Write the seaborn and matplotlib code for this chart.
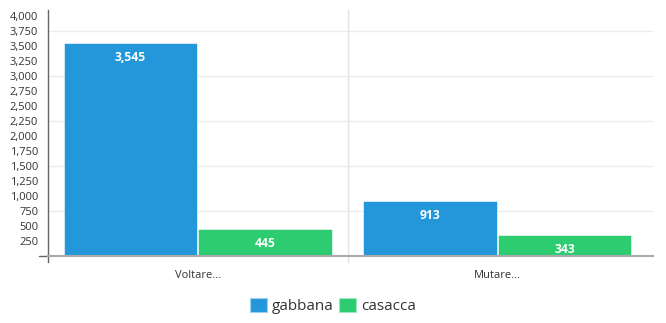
import matplotlib
matplotlib.use("Agg")
import matplotlib.pyplot as plt
import seaborn as sns
import pandas as pd
from matplotlib.patches import Patch

categories = ["Voltare...", "Mutare..."]
series_names = ["gabbana", "casacca"]
gabbana = [3545, 913]
casacca = [445, 343]
y_ticks = [250, 500, 750, 1000, 1250, 1500, 1750, 2000, 2250, 2500, 2750, 3000, 3250, 3500, 3750, 4000]
grid_lines = [750, 1500, 2250, 3000, 3750]
colors = ["#2497DB", "#2ECC71"]

df = pd.DataFrame({
    "category": categories * 2,
    "series": [series_names[0]] * 2 + [series_names[1]] * 2,
    "value": gabbana + casacca,
})

sns.set_theme(style="white")
plt.rcParams["font.family"] = ["Open Sans", "DejaVu Sans"]

fig = plt.figure(figsize=(6.66, 3.23), dpi=100)
ax = fig.add_axes([48 / 666, 67 / 323, 605 / 666, 246 / 323])

for g in grid_lines:
    ax.axhline(g, color="#ececec", lw=1, zorder=0)
ax.axvline(0.5, ymin=-0.025, ymax=1, color="#e2e2e2", lw=1, zorder=0, clip_on=False)

sns.barplot(data=df, x="category", y="value", hue="series", palette=colors,
            width=0.9, gap=0.01, ax=ax, legend=False, saturation=1,
            edgecolor="#ffffff", linewidth=0.4, zorder=2)

for container in ax.containers:
    for bar in container:
        h = bar.get_height()
        ax.annotate(f"{int(h):,}", (bar.get_x() + bar.get_width() / 2, h),
                    xytext=(0, -14), textcoords="offset pixels",
                    ha="center", va="center", color="white", fontweight="bold",
                    fontsize=8.7, zorder=3)

ax.set_xlim(-0.5, 1.52)
ax.set_ylim(0, 4100)
ax.set_yticks(y_ticks)
ax.set_yticklabels([f"{v:,}" for v in y_ticks])
ax.tick_params(axis="y", length=0, pad=7, labelsize=8, labelcolor="#333333")
ax.tick_params(axis="x", length=0, pad=10, labelsize=8, labelcolor="#333333")
ax.set_xlabel("")
ax.set_ylabel("")

for s in ["top", "right"]:
    ax.spines[s].set_visible(False)
ax.spines["left"].set_color("#666666")
ax.spines["left"].set_linewidth(1)
ax.spines["left"].set_bounds(-100, 4100)
ax.spines["bottom"].set_color("#aaaaaa")
ax.spines["bottom"].set_linewidth(1.5)
ax.spines["bottom"].set_zorder(4)
ax.plot([-0.53, -0.5], [0, 0], color="#666666", lw=1, clip_on=False)

handles = [Patch(facecolor=c, edgecolor="#9fd0f0" if i == 0 else "#9fe8bd", lw=0.8) for i, c in enumerate(colors)]
fig.legend(handles, series_names, loc="center", bbox_to_anchor=(0.5, 1 - 306 / 323),
           ncol=2, frameon=False, fontsize=11, handlelength=1.1, handleheight=1.1,
           handletextpad=0.3, columnspacing=0.4, labelcolor="#333333")

fig.savefig("out.png", dpi=100)
